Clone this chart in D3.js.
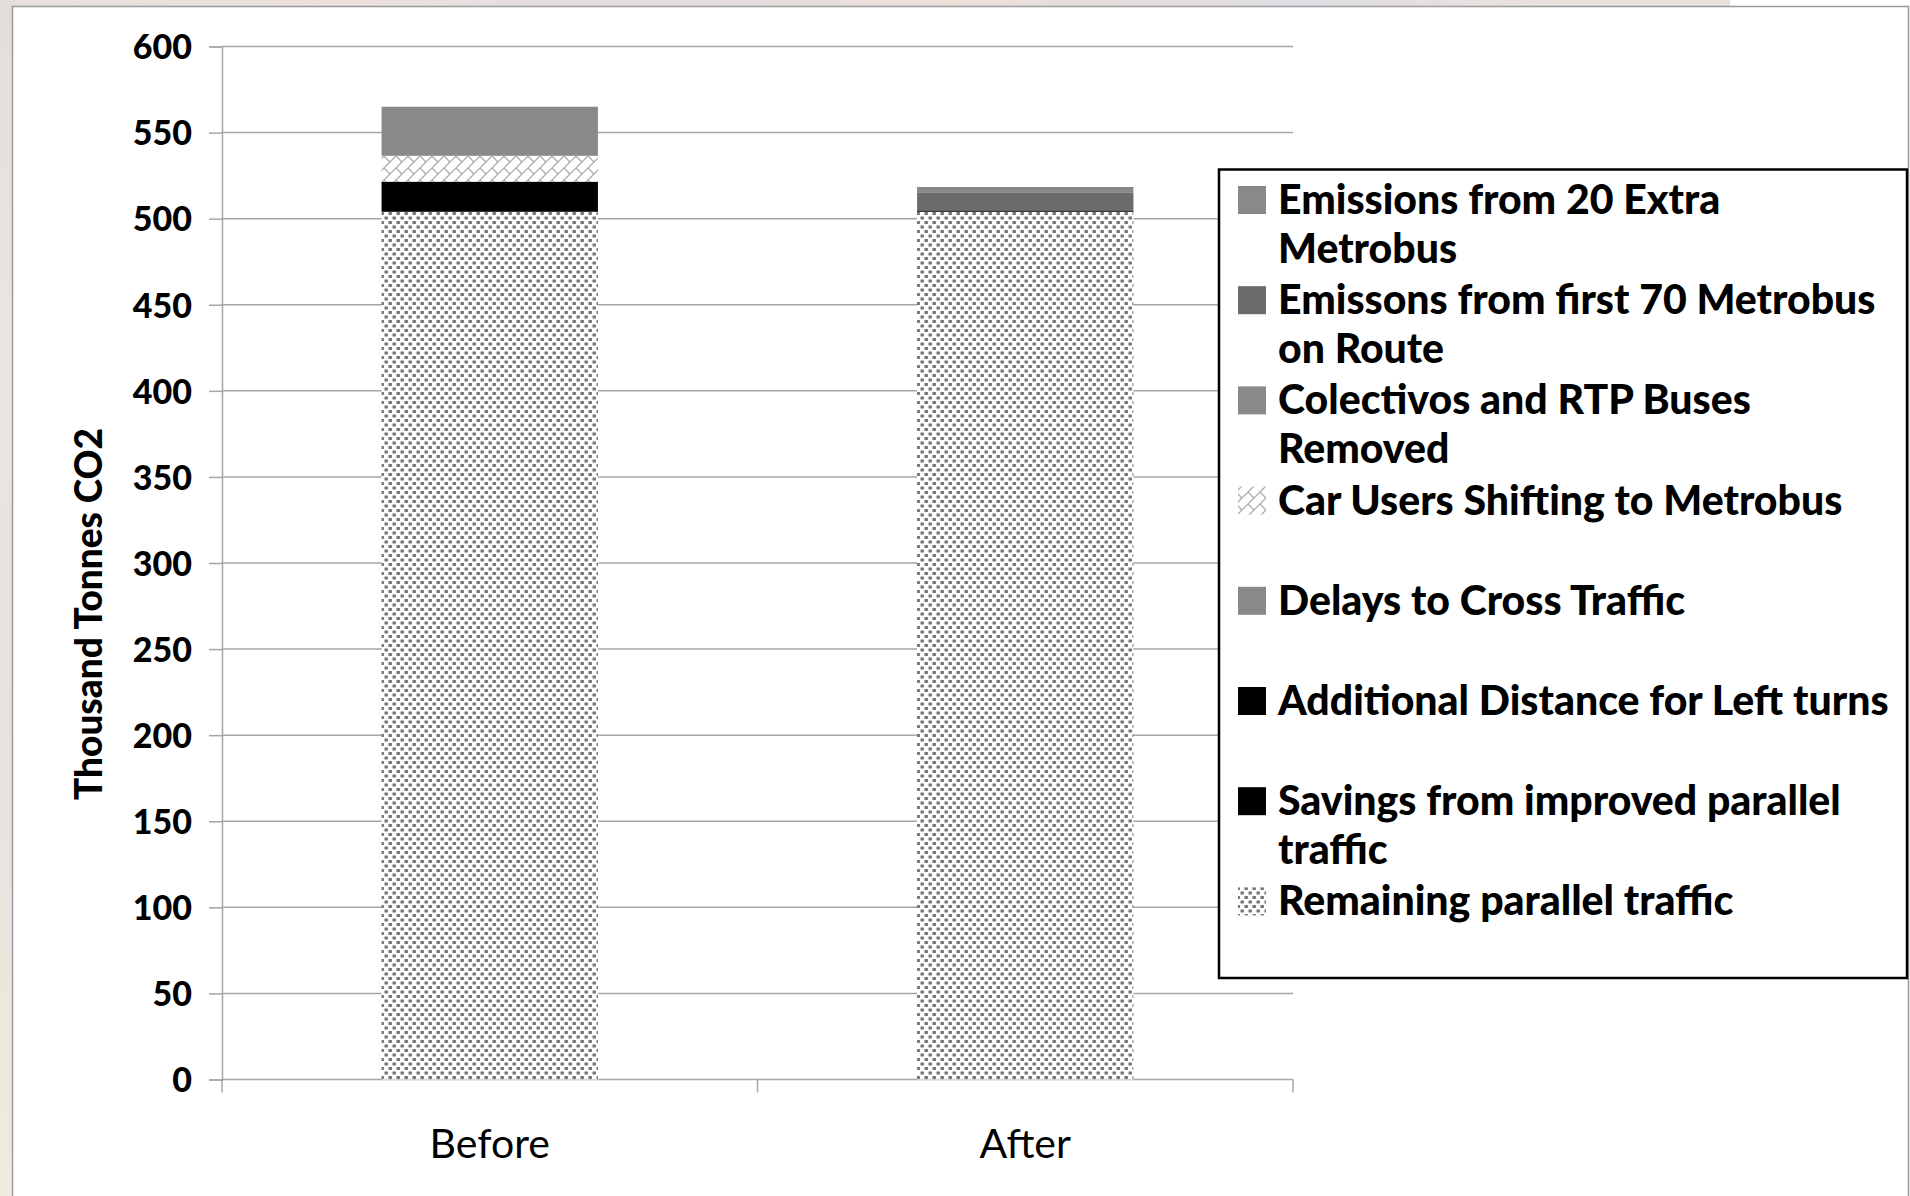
<!DOCTYPE html>
<html>
<head>
<meta charset="utf-8">
<script src="https://cdn.jsdelivr.net/npm/d3@7"></script>
<style>
  html, body { margin: 0; padding: 0; background: #fff; }
  svg { display: block; }
</style>
</head>
<body>
<svg id="chart" width="1910" height="1196"></svg>
<script>
// ---------- DATA ----------
const categories = ["Before", "After"];
const seriesNames = [
  "Remaining parallel traffic",
  "Savings from improved parallel traffic",
  "Additional Distance for Left turns",
  "Delays to Cross Traffic",
  "Car Users Shifting to Metrobus",
  "Colectivos and RTP Buses Removed",
  "Emissons from first 70 Metrobus on Route",
  "Emissions from 20 Extra Metrobus"
];
const remainingParallel = [504, 504];
const savingsParallel   = [17.5, 0];
const additionalLeft    = [0, 0.8];
const delaysCross       = [0, 0];
const carUsersShift     = [15, 0];
const colectivosRemoved = [28.5, 0];
const first70Metrobus   = [0, 10.5];
const extra20Metrobus   = [0, 3.1];
const yTicks = [0, 50, 100, 150, 200, 250, 300, 350, 400, 450, 500, 550, 600];
const yTitle = "Thousand Tonnes CO2";
// legend lines (top to bottom), with manual wrapping as in the original
const legendLines = [
  ["Emissions from 20 Extra", "Metrobus"],
  ["Emissons from first 70 Metrobus", "on Route"],
  ["Colectivos and RTP Buses", "Removed"],
  ["Car Users Shifting to Metrobus"],
  ["Delays to Cross Traffic"],
  ["Additional Distance for Left turns"],
  ["Savings from improved parallel", "traffic"],
  ["Remaining parallel traffic"]
];

const seriesValues = [remainingParallel, savingsParallel, additionalLeft, delaysCross,
                      carUsersShift, colectivosRemoved, first70Metrobus, extra20Metrobus];
const fills = ["url(#dots)", "#000000", "#000000", "#898989",
               "url(#brick)", "#898989", "#6b6b6b", "#898989"];

// ---------- SVG ----------
const svg = d3.select("#chart");
const defs = svg.append("defs");

// background blurred strip (outside the white panel)
const grad = defs.append("linearGradient").attr("id", "bgTop").attr("x1", 0).attr("x2", 1);
[["0%", "#e6dfdb"], ["20%", "#ece1dc"], ["35%", "#e2dce2"], ["55%", "#ebdfd8"], ["75%", "#e0dee4"], ["90%", "#e9e1dc"]]
  .forEach(([o, c]) => grad.append("stop").attr("offset", o).attr("stop-color", c));
const gradL = defs.append("linearGradient").attr("id", "bgLeft").attr("x1", 0).attr("x2", 0).attr("y1", 0).attr("y2", 1);
[["0%", "#e3ded9"], ["30%", "#ece5df"], ["60%", "#e6e2dd"], ["100%", "#efebe0"]]
  .forEach(([o, c]) => gradL.append("stop").attr("offset", o).attr("stop-color", c));
svg.append("rect").attr("x", 0).attr("y", 0).attr("width", 1730).attr("height", 7).attr("fill", "url(#bgTop)");
svg.append("rect").attr("x", 0).attr("y", 0).attr("width", 12).attr("height", 1196).attr("fill", "url(#bgLeft)");
svg.append("rect").attr("x", 12.5).attr("y", 6.5).attr("width", 1896).attr("height", 1200)
  .attr("fill", "#fff").attr("stroke", "#9a9a9a").attr("stroke-width", 1.5);

// patterns
const pDots = defs.append("pattern").attr("id", "dots").attr("patternUnits", "userSpaceOnUse")
  .attr("width", 8).attr("height", 9);
pDots.append("rect").attr("width", 8).attr("height", 9).attr("fill", "#fff");
pDots.append("rect").attr("x", 0.5).attr("y", 0.5).attr("width", 3.4).attr("height", 3).attr("fill", "#747474");
pDots.append("rect").attr("x", 4.5).attr("y", 5).attr("width", 3.4).attr("height", 3).attr("fill", "#747474");

const pBrick = defs.append("pattern").attr("id", "brick").attr("patternUnits", "userSpaceOnUse")
  .attr("width", 12).attr("height", 12);
pBrick.append("rect").attr("width", 12).attr("height", 12).attr("fill", "#fff");
pBrick.append("path").attr("d", "M0,12L12,0 M-2,2L2,-2 M10,14L14,10 M0,0L6,6")
  .attr("stroke", "#b0b0b0").attr("stroke-width", 1.4).attr("fill", "none");

// ---------- SCALES ----------
const plotLeft = 222, plotRight = 1293, plotTop = 46.5, plotBottom = 1079.5;
const y = d3.scaleLinear().domain([0, 600]).range([plotBottom, plotTop]);
const x = d3.scaleBand().domain(categories).range([plotLeft, plotRight])
  .paddingInner(0.596).paddingOuter(0.298);

// gridlines
svg.append("g").selectAll("line").data(yTicks.filter(d => d > 0)).join("line")
  .attr("x1", plotLeft).attr("x2", plotRight)
  .attr("y1", d => y(d)).attr("y2", d => y(d))
  .attr("stroke", "#a6a6a6").attr("stroke-width", 1.5);

// y axis
const yAxis = svg.append("g").attr("transform", `translate(${plotLeft},0)`)
  .call(d3.axisLeft(y).tickValues(yTicks).tickSize(13).tickPadding(17).tickFormat(d3.format("d")));
yAxis.select(".domain").attr("stroke", "#a6a6a6").attr("stroke-width", 1.5);
yAxis.selectAll(".tick line").attr("stroke", "#a6a6a6").attr("stroke-width", 1.5);
yAxis.selectAll(".tick text").attr("font-family", "Lato, sans-serif").attr("font-weight", 900)
  .attr("font-size", 34).attr("fill", "#000").attr("dy", "0.36em");

// x axis
const xAxisG = svg.append("g");
xAxisG.append("line").attr("x1", plotLeft).attr("x2", plotRight).attr("y1", plotBottom).attr("y2", plotBottom)
  .attr("stroke", "#a6a6a6").attr("stroke-width", 1.5);
const boundaries = [plotLeft, ...categories.map(c => x(c) + x.bandwidth() / 2 + x.step() / 2)];
xAxisG.selectAll("line.tk").data(boundaries).join("line").attr("class", "tk")
  .attr("x1", d => d).attr("x2", d => d).attr("y1", plotBottom).attr("y2", plotBottom + 13)
  .attr("stroke", "#a6a6a6").attr("stroke-width", 1.5);
xAxisG.selectAll("text").data(categories).join("text")
  .attr("x", d => x(d) + x.bandwidth() / 2).attr("y", 1158)
  .attr("text-anchor", "middle").attr("font-family", "Lato, sans-serif").attr("font-size", 41)
  .attr("fill", "#000").text(d => d);

// y title
svg.append("text").attr("transform", `translate(102,614) rotate(-90)`)
  .attr("text-anchor", "middle").attr("font-family", "Lato, sans-serif").attr("font-weight", 900)
  .attr("font-size", 37).attr("fill", "#000").text(yTitle);

// ---------- STACKED BARS ----------
const table = categories.map((c, i) => {
  const row = { category: c };
  seriesNames.forEach((s, k) => row[s] = seriesValues[k][i]);
  return row;
});
const stacked = d3.stack().keys(seriesNames)(table);
const barsG = svg.append("g");
stacked.forEach((layer, k) => {
  barsG.append("g").attr("fill", fills[k]).selectAll("rect").data(layer).join("rect")
    .attr("x", d => x(d.data.category))
    .attr("width", x.bandwidth())
    .attr("y", d => y(d[1]))
    .attr("height", d => Math.max(0, y(d[0]) - y(d[1])));
});

// ---------- LEGEND ----------
const lg = svg.append("g");
lg.append("rect").attr("x", 1219).attr("y", 169.5).attr("width", 688).attr("height", 808.5)
  .attr("fill", "#fff").attr("stroke", "#000").attr("stroke-width", 2.5);
const legendFills = fills.slice().reverse();
legendLines.forEach((lines, i) => {
  const base = 214 + i * 100.2;
  lg.append("rect").attr("x", 1238).attr("y", base - 28).attr("width", 28).attr("height", 28)
    .attr("fill", legendFills[i]);
  const t = lg.append("text").attr("font-family", "Lato, sans-serif").attr("font-weight", 900)
    .attr("font-size", 41).attr("fill", "#000");
  lines.forEach((ln, j) => {
    t.append("tspan").attr("x", 1278).attr("y", base + j * 48.5).text(ln);
  });
});
</script>
</body>
</html>
